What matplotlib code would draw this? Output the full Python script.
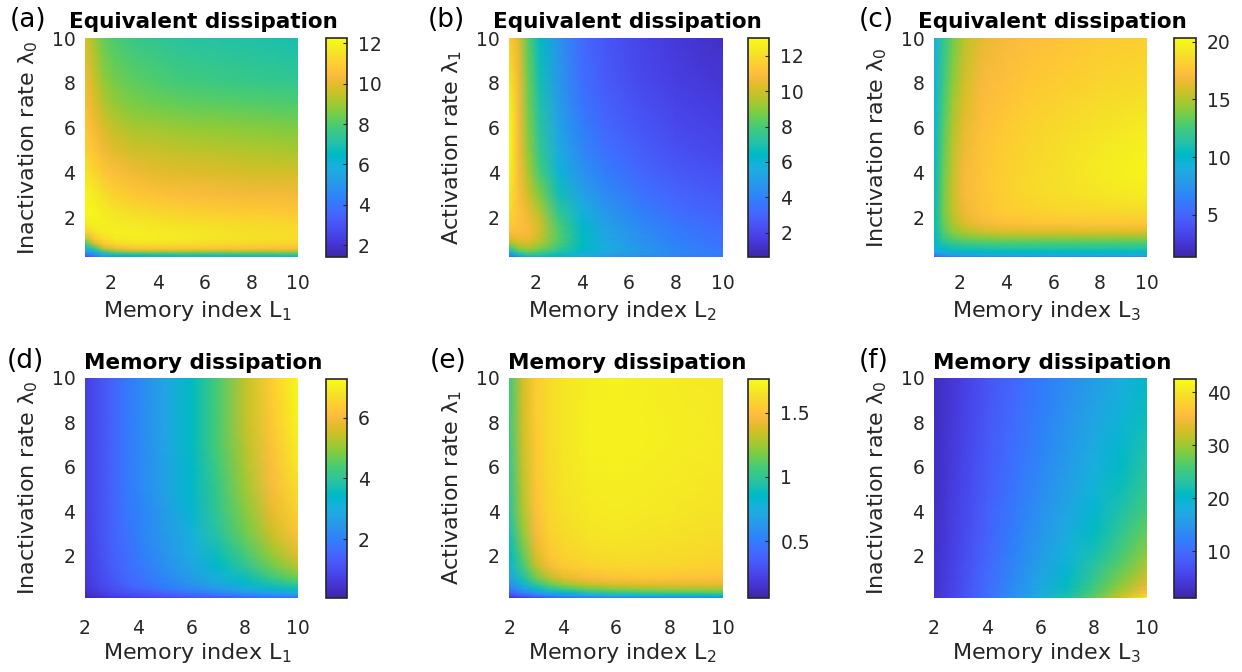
import numpy as np
import matplotlib
matplotlib.use('Agg')
import matplotlib.pyplot as plt
from matplotlib.colors import LinearSegmentedColormap

plt.rcParams['font.family'] = ['DejaVu Sans']
plt.rcParams['mathtext.fontset'] = 'dejavusans'

# ---------------- parula-like colormap ----------------
parula_colors = [
    [0.2422, 0.1504, 0.6603], [0.2504, 0.1650, 0.7076], [0.2578, 0.1818, 0.7511],
    [0.2647, 0.1978, 0.7952], [0.2706, 0.2147, 0.8364], [0.2751, 0.2342, 0.8710],
    [0.2783, 0.2559, 0.8991], [0.2803, 0.2782, 0.9221], [0.2813, 0.3006, 0.9414],
    [0.2810, 0.3228, 0.9579], [0.2795, 0.3447, 0.9717], [0.2760, 0.3667, 0.9829],
    [0.2699, 0.3892, 0.9906], [0.2602, 0.4123, 0.9952], [0.2440, 0.4358, 0.9988],
    [0.2206, 0.4603, 0.9973], [0.1963, 0.4847, 0.9892], [0.1834, 0.5074, 0.9798],
    [0.1786, 0.5289, 0.9682], [0.1764, 0.5499, 0.9520], [0.1687, 0.5720, 0.9359],
    [0.1540, 0.5941, 0.9218], [0.1460, 0.6135, 0.9079], [0.1380, 0.6330, 0.8973],
    [0.1248, 0.6522, 0.8883], [0.1113, 0.6708, 0.8785], [0.0952, 0.6890, 0.8669],
    [0.0689, 0.7030, 0.8480], [0.0297, 0.7082, 0.8163], [0.0036, 0.7203, 0.7917],
    [0.0067, 0.7312, 0.7596], [0.0433, 0.7411, 0.7253], [0.0964, 0.7500, 0.6912],
    [0.1408, 0.7584, 0.6539], [0.1717, 0.7670, 0.6153], [0.1938, 0.7758, 0.5751],
    [0.2161, 0.7843, 0.5329], [0.2470, 0.7918, 0.4878], [0.2906, 0.7973, 0.4423],
    [0.3406, 0.8008, 0.3943], [0.3909, 0.8029, 0.3479], [0.4456, 0.8024, 0.2951],
    [0.5044, 0.7993, 0.2553], [0.5616, 0.7942, 0.2210], [0.6174, 0.7876, 0.2042],
    [0.6720, 0.7793, 0.1819], [0.7242, 0.7698, 0.1677], [0.7738, 0.7598, 0.1629],
    [0.8203, 0.7498, 0.1535], [0.8634, 0.7406, 0.1596], [0.9035, 0.7330, 0.1774],
    [0.9393, 0.7288, 0.2100], [0.9728, 0.7298, 0.2394], [0.9956, 0.7434, 0.2371],
    [0.9970, 0.7659, 0.2199], [0.9952, 0.7893, 0.2028], [0.9892, 0.8136, 0.1885],
    [0.9786, 0.8386, 0.1766], [0.9676, 0.8639, 0.1643], [0.9610, 0.8890, 0.1537],
    [0.9597, 0.9135, 0.1423], [0.9628, 0.9373, 0.1265], [0.9691, 0.9606, 0.1064],
    [0.9769, 0.9839, 0.0805]]
parula = LinearSegmentedColormap.from_list('parula', parula_colors, N=256)

# ---------------- data ----------------
# top row grid (memory index, rate)
x_top = [0.9, 1.3, 1.7, 2.2, 3, 4, 5, 6.5, 8, 10]
y_top = [0.2, 0.3, 0.45, 0.6, 0.8, 1.0, 1.3, 1.7, 2.2, 3, 4, 5, 6, 7, 8, 10]
# bottom row grid
x_bot = [2, 2.5, 3, 3.5, 4, 5, 6, 7, 8, 9, 10]
y_bot = [0.1, 0.2, 0.35, 0.5, 0.7, 1.0, 1.5, 2, 3, 4, 5, 6, 7, 8, 10]

# (a) equivalent dissipation vs L1, lambda0 (rows = y_top)
equiv_L1 = [
    [2.5, 3.5, 4.5, 5.0, 5.5, 5.8, 6.0, 6.0, 6.2, 6.3],
    [3.5, 4.5, 5.5, 6.2, 6.5, 6.7, 6.8, 6.8, 6.9, 7.0],
    [5.0, 6.0, 7.5, 8.5, 9.0, 9.0, 9.0, 9.0, 9.0, 9.0],
    [6.0, 7.5, 9.5, 10.3, 10.6, 10.7, 10.7, 10.7, 10.6, 10.5],
    [7.5, 9.5, 10.8, 11.3, 11.5, 11.5, 11.4, 11.3, 11.2, 11.1],
    [9.0, 10.7, 11.4, 11.7, 11.8, 11.8, 11.7, 11.6, 11.5, 11.4],
    [10.8, 11.5, 11.8, 11.9, 11.9, 11.8, 11.7, 11.6, 11.5, 11.4],
    [11.8, 11.9, 11.9, 11.8, 11.7, 11.6, 11.5, 11.4, 11.3, 11.2],
    [12.1, 12.0, 11.8, 11.6, 11.4, 11.2, 11.1, 11.0, 10.9, 10.8],
    [12.1, 11.8, 11.4, 11.1, 10.8, 10.6, 10.5, 10.4, 10.3, 10.3],
    [11.6, 11.2, 10.8, 10.5, 10.2, 10.0, 9.9, 9.8, 9.7, 9.7],
    [11.1, 10.7, 10.2, 9.9, 9.6, 9.5, 9.4, 9.3, 9.2, 9.1],
    [10.8, 10.3, 9.8, 9.4, 9.1, 9.0, 8.9, 8.8, 8.7, 8.6],
    [10.5, 9.9, 9.3, 8.9, 8.6, 8.4, 8.3, 8.2, 8.1, 8.0],
    [10.3, 9.6, 8.9, 8.5, 8.2, 8.0, 7.8, 7.7, 7.6, 7.5],
    [9.8, 9.0, 8.3, 7.9, 7.6, 7.4, 7.2, 7.1, 7.0, 6.9]]

# (b) equivalent dissipation vs L2, lambda1
equiv_L2 = [
    [2.5, 4.0, 5.0, 5.5, 5.5, 5.0, 4.6, 4.2, 3.8, 3.5],
    [4.0, 6.0, 7.0, 7.0, 6.5, 5.8, 5.2, 4.6, 4.1, 3.7],
    [6.0, 8.0, 8.5, 8.0, 7.2, 6.3, 5.5, 4.8, 4.2, 3.8],
    [7.5, 9.0, 9.3, 8.8, 7.6, 6.4, 5.5, 4.7, 4.1, 3.6],
    [9.0, 9.8, 10.0, 9.4, 8.0, 6.5, 5.5, 4.6, 4.0, 3.5],
    [10.0, 10.5, 10.5, 9.8, 8.2, 6.5, 5.4, 4.5, 3.9, 3.4],
    [10.9, 11.0, 10.8, 10.0, 8.2, 6.4, 5.3, 4.4, 3.8, 3.3],
    [11.5, 11.2, 10.8, 10.0, 8.0, 6.2, 5.1, 4.2, 3.6, 3.1],
    [11.9, 11.2, 10.6, 9.6, 7.5, 5.8, 4.8, 3.9, 3.3, 2.9],
    [12.3, 11.0, 10.0, 8.8, 6.8, 5.2, 4.3, 3.5, 3.0, 2.6],
    [12.7, 10.9, 9.5, 8.0, 6.0, 4.6, 3.8, 3.1, 2.6, 2.3],
    [12.9, 10.8, 9.1, 7.5, 5.5, 4.2, 3.4, 2.8, 2.3, 2.0],
    [12.9, 10.8, 8.9, 7.2, 5.2, 3.9, 3.1, 2.5, 2.1, 1.8],
    [12.7, 10.8, 8.7, 7.0, 5.0, 3.6, 2.9, 2.3, 1.9, 1.6],
    [12.3, 10.7, 8.6, 6.8, 4.8, 3.4, 2.7, 2.1, 1.7, 1.4],
    [11.4, 10.4, 8.3, 6.5, 4.6, 3.2, 2.5, 1.9, 1.5, 1.1]]

# (c) equivalent dissipation vs L3, lambda0
equiv_L3 = [
    [4.0, 4.5, 5.0, 5.5, 5.8, 6.0, 6.0, 6.0, 6.0, 6.0],
    [6.5, 7.5, 8.0, 8.5, 8.8, 9.0, 9.0, 9.0, 9.0, 9.0],
    [8.5, 9.3, 9.8, 10.0, 10.2, 10.3, 10.3, 10.3, 10.3, 10.3],
    [9.3, 10.3, 10.8, 11.0, 11.2, 11.3, 11.3, 11.3, 11.3, 11.3],
    [9.8, 11.2, 11.8, 12.2, 12.4, 12.5, 12.5, 12.5, 12.5, 12.5],
    [10.1, 12.0, 12.8, 13.3, 13.6, 13.8, 13.8, 13.8, 13.8, 13.8],
    [10.3, 12.8, 14.0, 14.8, 15.5, 15.8, 15.9, 15.9, 15.9, 15.9],
    [10.4, 13.3, 14.8, 16.0, 16.9, 17.3, 17.5, 17.6, 17.7, 17.7],
    [10.4, 13.6, 15.3, 16.6, 17.5, 18.0, 18.2, 18.4, 18.5, 18.6],
    [10.3, 13.6, 15.5, 16.9, 17.7, 18.2, 18.6, 18.9, 19.2, 19.5],
    [10.1, 13.4, 15.4, 16.9, 17.7, 18.2, 18.6, 19.0, 19.5, 20.0],
    [9.9, 13.2, 15.2, 16.7, 17.6, 18.1, 18.5, 18.9, 19.4, 19.8],
    [9.7, 12.9, 14.9, 16.4, 17.4, 17.9, 18.3, 18.7, 19.1, 19.5],
    [9.5, 12.6, 14.6, 16.1, 17.2, 17.7, 18.0, 18.4, 18.8, 19.1],
    [9.3, 12.3, 14.2, 15.8, 17.0, 17.4, 17.8, 18.1, 18.4, 18.7],
    [9.0, 11.8, 13.6, 15.2, 16.5, 17.0, 17.3, 17.6, 17.9, 18.1]]

# (d) memory dissipation vs L1, lambda0 (rows = y_bot)
mem_L1 = [
    [0.15, 0.3, 0.45, 0.6, 0.7, 0.85, 1.0, 1.1, 1.3, 1.4, 1.5],
    [0.3, 0.5, 0.7, 0.85, 1.0, 1.2, 1.4, 1.6, 1.9, 2.1, 2.3],
    [0.4, 0.65, 0.9, 1.1, 1.2, 1.5, 1.8, 2.2, 2.5, 2.8, 3.1],
    [0.5, 0.75, 1.0, 1.2, 1.4, 1.8, 2.1, 2.5, 2.9, 3.3, 3.6],
    [0.55, 0.85, 1.1, 1.4, 1.6, 2.0, 2.4, 2.8, 3.3, 3.7, 4.1],
    [0.6, 0.9, 1.2, 1.5, 1.7, 2.1, 2.6, 3.1, 3.6, 4.2, 4.7],
    [0.62, 0.95, 1.3, 1.6, 1.8, 2.3, 2.8, 3.4, 4.0, 4.7, 5.3],
    [0.65, 1.0, 1.35, 1.6, 1.9, 2.4, 2.9, 3.6, 4.3, 5.0, 5.7],
    [0.68, 1.05, 1.4, 1.7, 2.0, 2.5, 3.1, 3.9, 4.7, 5.5, 6.2],
    [0.7, 1.05, 1.45, 1.8, 2.0, 2.6, 3.3, 4.1, 4.9, 5.8, 6.5],
    [0.7, 1.05, 1.45, 1.8, 2.1, 2.7, 3.4, 4.2, 5.1, 6.0, 6.7],
    [0.7, 1.05, 1.45, 1.8, 2.1, 2.7, 3.4, 4.3, 5.2, 6.1, 6.9],
    [0.7, 1.05, 1.45, 1.8, 2.1, 2.8, 3.5, 4.4, 5.3, 6.2, 7.0],
    [0.7, 1.05, 1.45, 1.8, 2.1, 2.8, 3.5, 4.4, 5.4, 6.3, 7.1],
    [0.7, 1.05, 1.45, 1.8, 2.1, 2.8, 3.5, 4.4, 5.4, 6.4, 7.2]]

# (e) memory dissipation vs L2, lambda1
mem_L2 = [
    [0.10, 0.17, 0.23, 0.28, 0.32, 0.38, 0.43, 0.46, 0.48, 0.50, 0.52],
    [0.25, 0.36, 0.45, 0.53, 0.60, 0.70, 0.76, 0.80, 0.82, 0.84, 0.85],
    [0.38, 0.53, 0.66, 0.77, 0.85, 0.96, 1.02, 1.06, 1.08, 1.09, 1.10],
    [0.48, 0.66, 0.82, 0.95, 1.04, 1.15, 1.20, 1.23, 1.25, 1.26, 1.26],
    [0.58, 0.80, 0.98, 1.12, 1.22, 1.32, 1.37, 1.39, 1.40, 1.40, 1.40],
    [0.68, 0.93, 1.15, 1.30, 1.40, 1.48, 1.51, 1.52, 1.52, 1.51, 1.50],
    [0.78, 1.05, 1.30, 1.45, 1.53, 1.58, 1.60, 1.60, 1.59, 1.58, 1.57],
    [0.85, 1.12, 1.38, 1.52, 1.58, 1.62, 1.63, 1.63, 1.62, 1.61, 1.60],
    [0.92, 1.22, 1.46, 1.57, 1.62, 1.66, 1.67, 1.66, 1.65, 1.64, 1.63],
    [0.97, 1.27, 1.50, 1.59, 1.64, 1.68, 1.69, 1.68, 1.67, 1.66, 1.65],
    [1.00, 1.30, 1.52, 1.60, 1.65, 1.69, 1.70, 1.69, 1.68, 1.67, 1.66],
    [1.02, 1.32, 1.53, 1.61, 1.66, 1.70, 1.71, 1.70, 1.69, 1.68, 1.67],
    [1.04, 1.34, 1.54, 1.62, 1.66, 1.71, 1.72, 1.71, 1.70, 1.69, 1.68],
    [1.05, 1.35, 1.55, 1.62, 1.66, 1.71, 1.72, 1.71, 1.70, 1.69, 1.68],
    [1.05, 1.35, 1.55, 1.62, 1.66, 1.70, 1.71, 1.70, 1.69, 1.68, 1.67]]

# (f) memory dissipation vs L3, lambda0
mem_L3 = [
    [3.4, 5.0, 6.7, 8.6, 10.4, 14.2, 18.2, 22.5, 27.2, 32.8, 42.0],
    [3.4, 4.9, 6.6, 8.5, 10.3, 14.1, 18.0, 22.2, 26.7, 31.8, 38.5],
    [3.3, 4.9, 6.6, 8.4, 10.2, 13.9, 17.7, 21.7, 26.0, 30.8, 36.3],
    [3.3, 4.8, 6.5, 8.3, 10.1, 13.7, 17.4, 21.3, 25.5, 30.0, 35.0],
    [3.3, 4.8, 6.4, 8.2, 10.0, 13.5, 17.1, 20.9, 24.9, 29.2, 33.9],
    [3.2, 4.7, 6.3, 8.1, 9.9, 13.2, 16.7, 20.3, 24.1, 28.2, 32.6],
    [3.2, 4.6, 6.2, 7.9, 9.6, 12.8, 16.1, 19.5, 23.1, 26.9, 30.9],
    [3.1, 4.5, 6.1, 7.7, 9.4, 12.5, 15.6, 18.8, 22.2, 25.8, 29.5],
    [3.0, 4.3, 5.8, 7.4, 9.0, 11.9, 14.8, 17.7, 20.8, 24.0, 27.3],
    [2.9, 4.1, 5.6, 7.1, 8.7, 11.4, 14.1, 16.8, 19.7, 22.6, 25.6],
    [2.8, 4.0, 5.4, 6.9, 8.4, 11.0, 13.5, 16.1, 18.8, 21.5, 24.3],
    [2.7, 3.9, 5.3, 6.7, 8.1, 10.6, 13.0, 15.5, 18.0, 20.6, 23.2],
    [2.65, 3.8, 5.15, 6.5, 7.9, 10.3, 12.6, 14.9, 17.3, 19.8, 22.3],
    [2.6, 3.7, 5.0, 6.3, 7.7, 10.0, 12.2, 14.4, 16.7, 19.0, 21.5],
    [2.5, 3.5, 4.7, 6.0, 7.3, 9.5, 11.5, 13.5, 15.5, 17.7, 20.0]]

panel_letters = ['(a)', '(b)', '(c)', '(d)', '(e)', '(f)']
titles = ['Equivalent dissipation'] * 3 + ['Memory dissipation'] * 3
xlabels = [r'Memory index $\mathregular{L_1}$', r'Memory index $\mathregular{L_2}$',
           r'Memory index $\mathregular{L_3}$'] * 2
ylabels = [r'Inactivation rate $\mathregular{λ_0}$', r'Activation rate $\mathregular{λ_1}$',
           r'Inctivation rate $\mathregular{λ_0}$',
           r'Inactivation rate $\mathregular{λ_0}$', r'Activation rate $\mathregular{λ_1}$',
           r'Inactivation rate $\mathregular{λ_0}$']
fields = [equiv_L1, equiv_L2, equiv_L3, mem_L1, mem_L2, mem_L3]
clims = [(1.4, 12.25), (0.6, 13.0), (1.3, 20.3), (0.08, 7.26), (0.06, 1.76), (1.2, 42.4)]
cticks = [[2, 4, 6, 8, 10, 12], [2, 4, 6, 8, 10, 12], [5, 10, 15, 20],
          [2, 4, 6], [0.5, 1, 1.5], [10, 20, 30, 40]]
cticklabels = [None, None, None, None, ['0.5', '1', '1.5'], None]
axis_ticks = [2, 4, 6, 8, 10]

# ---------------- layout (pixels) ----------------
W, H = 1242, 672
fig = plt.figure(figsize=(W / 100, H / 100), dpi=100)

def rect(l, r, t, b):
    return [l / W, 1 - b / H, (r - l) / W, (b - t) / H]

col_ax = [(85, 298.3), (509.3, 722.7), (934, 1146.7)]
row_ax = [(38.3, 257.3), (377.7, 598)]
col_cb = [(326, 346.7), (748.3, 769.3), (1174.3, 1195.7)]
row_cb = [(38.3, 257.3), (379.3, 597.7)]
ylab_x = [28, 452, 877]
xlab_x = [197, 622, 1046.5]
xlab_base = [317, 659]
title_x = [203, 627, 1052]
title_base = [28, 369]
letter_x = [10, 428, 859]
letter_x2 = [7, 430, 859]

TXT = '#262626'
for i in range(6):
    r, c = divmod(i, 3)
    xs = x_top if r == 0 else x_bot
    ys = y_top if r == 0 else y_bot
    X, Y = np.meshgrid(xs, ys)
    Z = np.array(fields[i])
    ax = fig.add_axes(rect(col_ax[c][0], col_ax[c][1], row_ax[r][0], row_ax[r][1]))
    vmin, vmax = clims[i]
    m = ax.pcolormesh(X, Y, Z, shading='gouraud', cmap=parula, vmin=vmin, vmax=vmax,
                      rasterized=True)
    ax.set_xlim(xs[0], xs[-1])
    ax.set_ylim(ys[0], ys[-1])
    ax.set_xticks(axis_ticks)
    ax.set_yticks(axis_ticks)
    for s in ax.spines.values():
        s.set_visible(False)
    ax.tick_params(axis='both', length=0, labelsize=13.5, colors=TXT)
    ax.tick_params(axis='x', pad=12 if r == 0 else 15)
    ax.tick_params(axis='y', pad=7)

    cax = fig.add_axes(rect(col_cb[c][0], col_cb[c][1], row_cb[r][0], row_cb[r][1]))
    cb = fig.colorbar(m, cax=cax)
    cb.set_ticks(cticks[i])
    if cticklabels[i] is not None:
        cb.set_ticklabels(cticklabels[i])
    cb.outline.set_edgecolor(TXT)
    cb.outline.set_linewidth(1.2)
    cax.tick_params(direction='in', length=3, width=0.8, labelsize=13.5,
                    colors=TXT, pad=8, right=True, left=False)

    ycen = 1 - (row_ax[r][0] + row_ax[r][1]) / 2 / H
    fig.text(ylab_x[c] / W, ycen, ylabels[i], rotation=90, ha='center', va='center',
             fontsize=16, color=TXT)
    fig.text(xlab_x[c] / W, 1 - xlab_base[r] / H, xlabels[i], ha='center', va='baseline',
             fontsize=16, color=TXT)
    fig.text(title_x[c] / W, 1 - title_base[r] / H, titles[i], ha='center', va='baseline',
             fontsize=15.5, fontweight='bold', color='black')
    lx = letter_x[c] if r == 0 else letter_x2[c]
    fig.text(lx / W, 1 - (title_base[r] - 1) / H, panel_letters[i], ha='left',
             va='baseline', fontsize=19, color='black')

fig.savefig('out.png', dpi=100)
